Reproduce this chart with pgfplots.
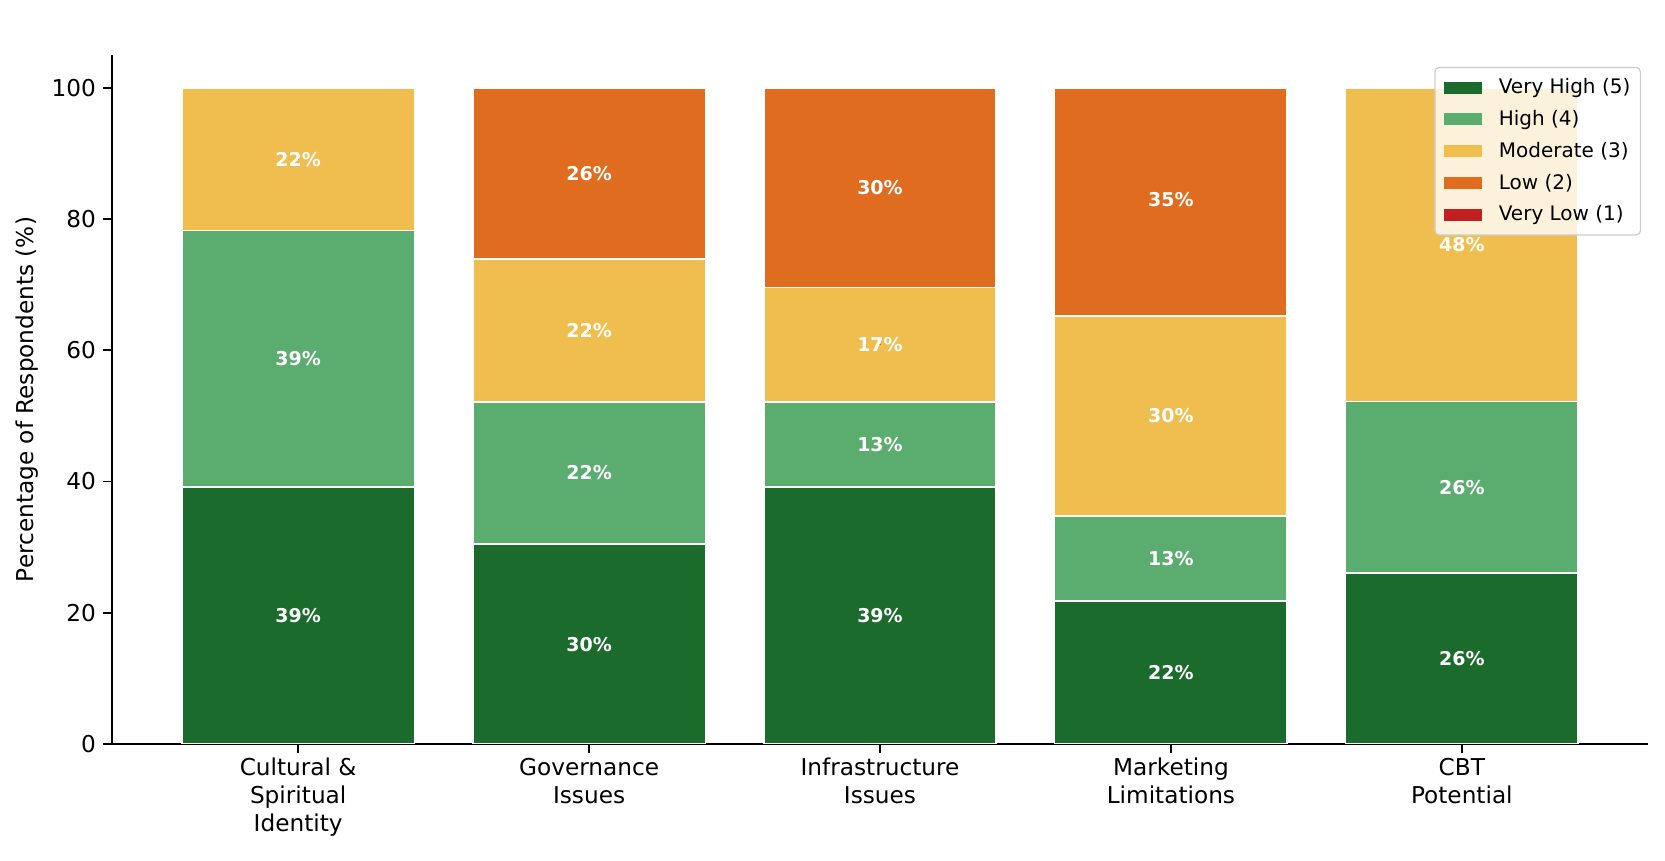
\documentclass[border=0pt]{standalone}
\usepackage{fontspec}
\setmainfont{DejaVu Sans}
\usepackage{pgfplots}
\pgfplotsset{compat=1.18}
\definecolor{cVH}{HTML}{1B6B2D}
\definecolor{cH}{HTML}{5BAD6F}
\definecolor{cM}{HTML}{F0BE4E}
\definecolor{cL}{HTML}{E06D1F}
\definecolor{cVL}{HTML}{C0201F}
\begin{document}
\begin{tikzpicture}
\pgfplotsset{
  common/.style={
    width=768pt, height=344.5pt, scale only axis,
    xmin=-0.64, xmax=4.64, ymin=0, ymax=105,
  }
}
\begin{axis}[common,
  ybar stacked, bar width=0.8,
  axis lines*=left,
  axis line style={-, line width=0.8pt},
  tick style={line width=0.8pt, black},
  major tick length=4.5pt,
  tick align=outside,
  xtick={0,1,2,3,4},
  xticklabels={{Cultural \&\\Spiritual\\Identity},{Governance\\Issues},{Infrastructure\\Issues},{Marketing\\Limitations},{CBT\\Potential}},
  xticklabel style={align=center, font=\fontsize{11.6}{14}\selectfont, inner sep=2pt, yshift=-0.3pt},
  ytick={0,20,40,60,80,100},
  yticklabel style={font=\fontsize{11.6}{14}\selectfont},
  /pgf/number format/assume math mode=true,
  ylabel={Percentage of Respondents (\%)},
  ylabel style={at={(axis description cs:-0.0553,0.5)}, anchor=center, font=\fontsize{11.6}{14}\selectfont},
  legend cell align=left,
  legend style={at={(0.9954,0.9826)}, anchor=north east,
    fill=white, fill opacity=0.8, draw opacity=1, text opacity=1,
    draw=black!20, line width=0.6pt, rounded corners=2pt,
    font=\fontsize{10}{12}\selectfont, row sep=2.8pt,
    inner xsep=3pt, inner ysep=3.5pt},
  legend image code/.code={%
    \path (-1pt,0pt) (25pt,0pt);
    \fill[#1, draw=none, fill opacity=1, sharp corners] (0pt,-3pt) rectangle (19pt,3pt);},
  every axis plot/.append style={draw=white, line width=0.9pt},
]
\addplot[fill=cVH] coordinates {(0,39.13) (1,30.43) (2,39.13) (3,21.74) (4,26.09)};
\addlegendentry{Very High (5)}
\addplot[fill=cH] coordinates {(0,39.13) (1,21.74) (2,13.04) (3,13.04) (4,26.09)};
\addlegendentry{High (4)}
\addplot[fill=cM] coordinates {(0,21.74) (1,21.74) (2,17.39) (3,30.43) (4,47.83)};
\addlegendentry{Moderate (3)}
\addplot[fill=cL] coordinates {(0,0) (1,26.09) (2,30.43) (3,34.78) (4,0)};
\addlegendentry{Low (2)}
\addplot[fill=cVL, draw=none] coordinates {(0,0) (1,0) (2,0) (3,0) (4,0)};
\addlegendentry{Very Low (1)}
\end{axis}
\begin{axis}[common, hide axis, clip=false]
\addplot[only marks, mark=*, mark size=0.01pt, mark options={draw=none, fill=none},
  point meta=explicit symbolic, nodes near coords,
  every node near coord/.style={anchor=center, text=white, font=\fontsize{9.5}{11}\bfseries}]
coordinates {
 (0,19.565)[39\%] (0,58.695)[39\%] (0,89.13)[22\%]
 (1,15.215)[30\%] (1,41.30)[22\%] (1,63.04)[22\%] (1,86.955)[26\%]
 (2,19.565)[39\%] (2,45.65)[13\%] (2,60.865)[17\%] (2,84.78)[30\%]
 (3,10.87)[22\%] (3,28.26)[13\%] (3,49.995)[30\%] (3,82.9)[35\%]
 (4,13.045)[26\%] (4,39.135)[26\%] (4,76.09)[48\%]
};
\end{axis}
\pgfresetboundingbox
\path (-56pt,-58.5pt) rectangle (776.5pt,372pt);
\end{tikzpicture}
\end{document}
